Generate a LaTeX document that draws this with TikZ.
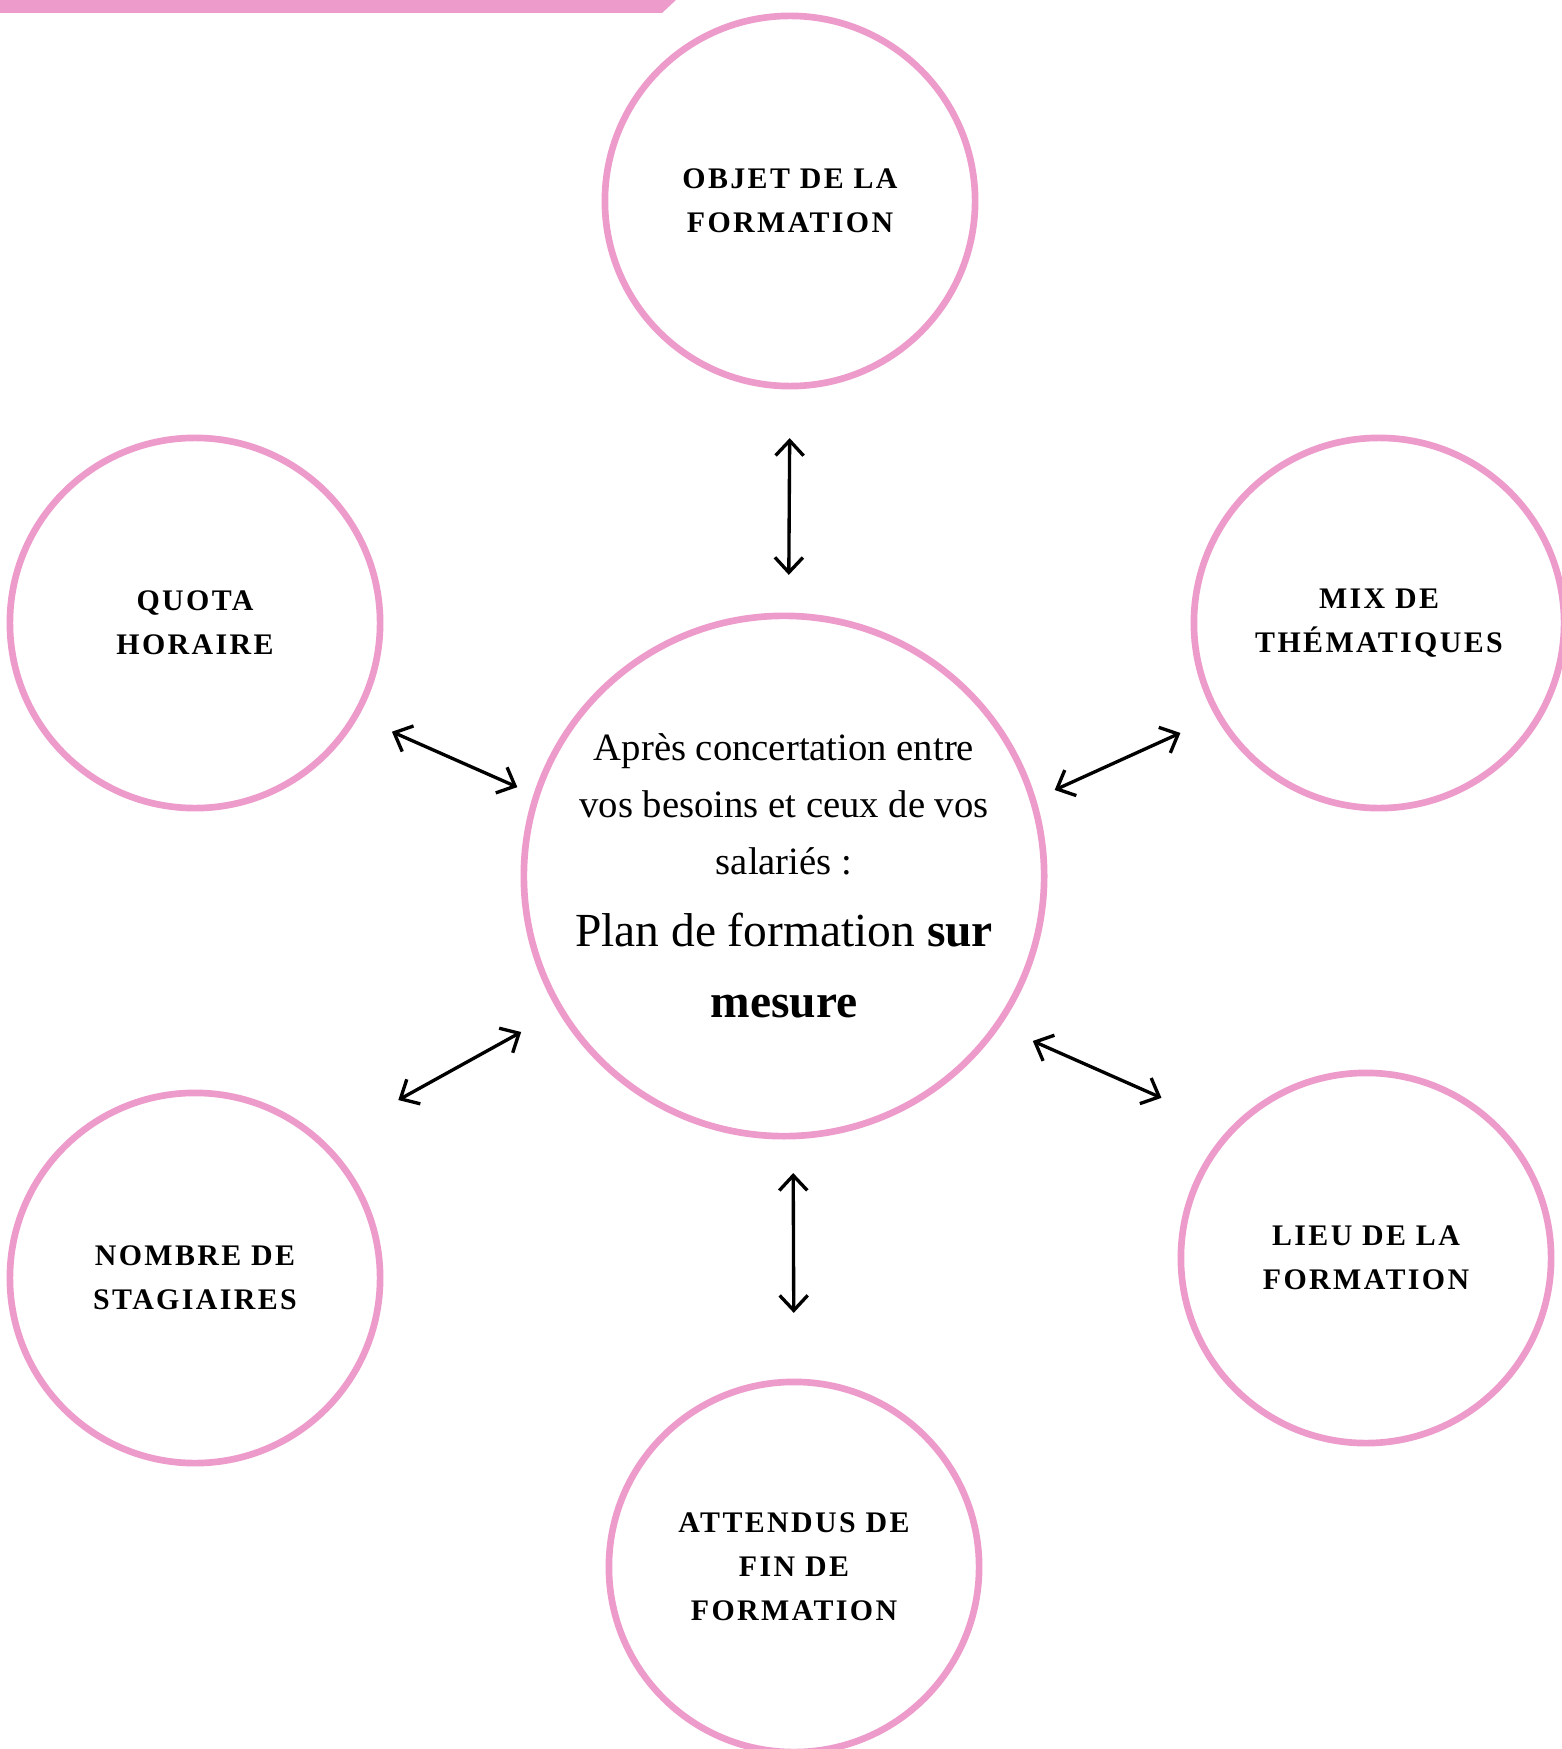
\documentclass[tikz,border=0pt]{standalone}
\usepackage{fontspec}
\setmainfont{Liberation Serif}
\usetikzlibrary{arrows.meta}
\definecolor{rose}{RGB}{236,155,203}
\begin{document}
\begin{tikzpicture}[x=0.01cm,y=-0.01cm,line join=round,line cap=round,>={Straight Barb[length=1.5mm,width=2.8mm]}]
	\tikzset{bulle/.style={circle,draw=rose,line width=1.9pt,minimum size=3.7cm,inner sep=0pt,outer sep=0pt},
		etiquette/.style={font=\fontsize{8.5}{12.5}\selectfont\bfseries\addfontfeature{LetterSpace=8},align=center},
		fleche/.style={<->,line width=0.95pt}}
	%%Cadre et bandeau
	\useasboundingbox (0,0) rectangle (1561,1749);
	\fill[rose] (0,0)--(676,0)--(662,13)--(0,13)--cycle;
	%%Bulle centrale
	\node[bulle,minimum size=5.2cm,align=center,font=\fontsize{11}{16.2}\selectfont] (plan) at (784,876)
	{Après concertation entre\\vos besoins et ceux de vos\\salariés :\\[4.2pt]
		{\fontsize{13.5}{20}\selectfont Plan de formation \textbf{sur}}\\[4pt]
		{\fontsize{13.5}{20}\selectfont\textbf{mesure}}};
	%%Bulles autour
	\node[bulle,etiquette] (objet) at (790,201) {OBJET DE LA\\FORMATION};
	\node[bulle,etiquette] (quota) at (195,623) {QUOTA\\HORAIRE};
	\node[bulle,etiquette] (mix) at (1379,623) {MIX DE\\THÉMATIQUES};
	\node[bulle,etiquette] (nombre) at (195,1278) {NOMBRE DE\\STAGIAIRES};
	\node[bulle,etiquette] (lieu) at (1366,1258) {LIEU DE LA\\FORMATION};
	\node[bulle,etiquette] (attendus) at (794,1567) {ATTENDUS DE\\FIN DE\\FORMATION};
	%%Flèches
	\draw[fleche,shorten <=0.52cm,shorten >=0.41cm] (objet.south)--(plan.89);
	\draw[fleche,shorten <=0.40cm,shorten >=0.21cm] (quota.-30.2)--(plan.162.7);
	\draw[fleche,shorten <=0.42cm,shorten >=0.24cm] (mix.210.5)--(plan.17.5);
	\draw[fleche,shorten <=0.88cm,shorten >=0.455cm] (nombre.47)--(plan.211.4);
	\draw[fleche,shorten <=0.39cm,shorten >=0.78cm] (plan.-35)--(lieu.136.5);
	\draw[fleche,shorten <=0.37cm,shorten >=0.69cm] (plan.-88)--(attendus.north);
\end{tikzpicture}
\end{document}
